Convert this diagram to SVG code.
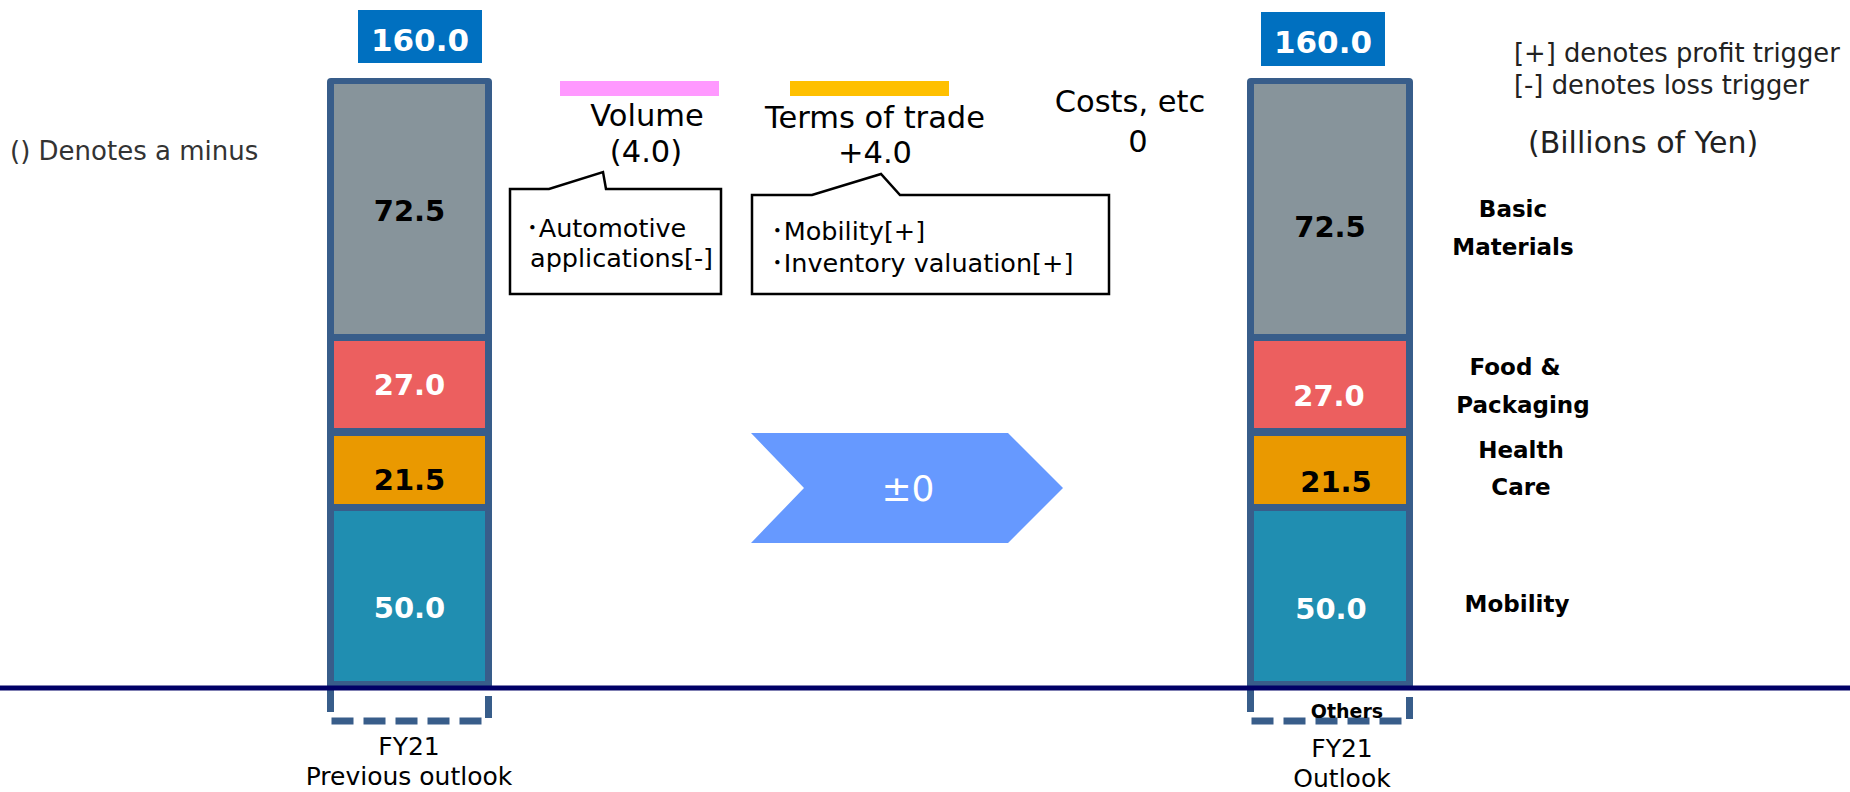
<svg xmlns="http://www.w3.org/2000/svg" width="1850" height="792" viewBox="0 0 1850 792">
<style>
text{font-family:"DejaVu Sans","Noto Sans CJK JP",sans-serif;}
.val{font-size:29px;font-weight:bold;text-anchor:middle;}
.tot{font-size:31px;font-weight:bold;fill:#fff;text-anchor:middle;}
.hd{font-size:30.5px;fill:#000;text-anchor:middle;}
.sm{font-size:25.5px;fill:#000;}
.lab{font-size:23px;font-weight:bold;fill:#000;text-anchor:middle;}
.fy{font-size:25px;fill:#000;text-anchor:middle;}
.border{fill:#385D8A;}
.dash{fill:none;stroke:#385D8A;stroke-width:7;stroke-dasharray:22 10;}
.call{fill:#fff;stroke:#000;stroke-width:2.5;stroke-linejoin:miter;}
</style>

<g id="note-minus"><text x="10" y="160" style="font-size:26px;fill:#333">() Denotes a minus</text></g>

<g id="legend">
<text x="1514" y="62" style="font-size:25.8px;fill:#222">[+] denotes profit trigger</text>
<text x="1514" y="94" style="font-size:25.8px;fill:#222">[-] denotes loss trigger</text>
<text x="1528" y="153" style="font-size:30px;fill:#222">(Billions of Yen)</text>
</g>

<g id="bar-previous">
<rect x="358" y="10" width="124" height="53" fill="#0070C0"/>
<text class="tot" x="420" y="51">160.0</text>
<rect class="border" x="327" y="78" width="165" height="612" rx="4"/>
<rect x="334" y="84" width="151" height="250" fill="#87949B"/>
<rect x="334" y="341" width="151" height="87" fill="#EC5F5F"/>
<rect x="334" y="436" width="151" height="68" fill="#EA9900"/>
<rect x="334" y="511" width="151" height="170" fill="#208EB1"/>
<text class="val" x="409.5" y="221" fill="#000">72.5</text>
<text class="val" x="409.5" y="395" fill="#fff">27.0</text>
<text class="val" x="409.5" y="490" fill="#000">21.5</text>
<text class="val" x="409.5" y="618" fill="#fff">50.0</text>
<path class="dash" d="M330.5,690 V721 H488.5 V690"/>
<text class="fy" x="409" y="755">FY21</text>
<text class="fy" x="409" y="785">Previous outlook</text>
</g>

<g id="bar-outlook">
<rect x="1261" y="12" width="124" height="54" fill="#0070C0"/>
<text class="tot" x="1323" y="53">160.0</text>
<rect class="border" x="1247" y="78" width="166" height="612" rx="4"/>
<rect x="1254" y="84" width="152" height="250" fill="#87949B"/>
<rect x="1254" y="341" width="152" height="87" fill="#EC5F5F"/>
<rect x="1254" y="436" width="152" height="68" fill="#EA9900"/>
<rect x="1254" y="511" width="152" height="170" fill="#208EB1"/>
<text class="val" x="1330" y="237" fill="#000">72.5</text>
<text class="val" x="1329" y="406" fill="#fff">27.0</text>
<text class="val" x="1336" y="492" fill="#000">21.5</text>
<text class="val" x="1331" y="619" fill="#fff">50.0</text>
<path class="dash" d="M1250.5,690 V721 H1409.5 V690"/>
<text x="1347" y="718" style="font-size:19px;font-weight:bold;text-anchor:middle;fill:#000">Others</text>
<text class="fy" x="1342" y="757">FY21</text>
<text class="fy" x="1342" y="787">Outlook</text>
</g>

<g id="segment-labels">
<text class="lab" x="1513" y="217">Basic</text>
<text class="lab" x="1513" y="255">Materials</text>
<text class="lab" x="1515" y="375">Food &amp;</text>
<text class="lab" x="1523" y="413">Packaging</text>
<text class="lab" x="1521" y="458">Health</text>
<text class="lab" x="1521" y="495">Care</text>
<text class="lab" x="1517" y="612">Mobility</text>
</g>

<g id="volume">
<rect x="560" y="81" width="159" height="15" fill="#FF99FF"/>
<text class="hd" x="647" y="126">Volume</text>
<text class="hd" x="646" y="162">(4.0)</text>
<path class="call" d="M510,189 H549 L603,172 L606,189 H721 V294 H510 Z"/>
<text class="sm" x="526" y="237">･Automotive</text>
<text class="sm" x="530" y="267">applications[-]</text>
</g>

<g id="terms-of-trade">
<rect x="790" y="81" width="159" height="15" fill="#FFC000"/>
<text class="hd" x="875" y="128">Terms of trade</text>
<text class="hd" x="875" y="163">+4.0</text>
<path class="call" d="M752,195 H812 L881,174 L900,195 H1109 V294 H752 Z"/>
<text class="sm" x="771" y="240">･Mobility[+]</text>
<text class="sm" x="771" y="272">･Inventory valuation[+]</text>
</g>

<g id="costs">
<text class="hd" x="1130" y="112">Costs, etc</text>
<text class="hd" x="1138" y="152">0</text>
</g>

<g id="connectors">
<polygon id="change-arrow" points="751,433 1008,433 1063,488 1008,543 751,543 804,488" fill="#6699FF"/>
<text x="908" y="501" style="font-size:36px;fill:#fff;text-anchor:middle">±0</text>
<line x1="0" y1="688" x2="1850" y2="688" stroke="#000066" stroke-width="5"/>
</g>
</svg>
